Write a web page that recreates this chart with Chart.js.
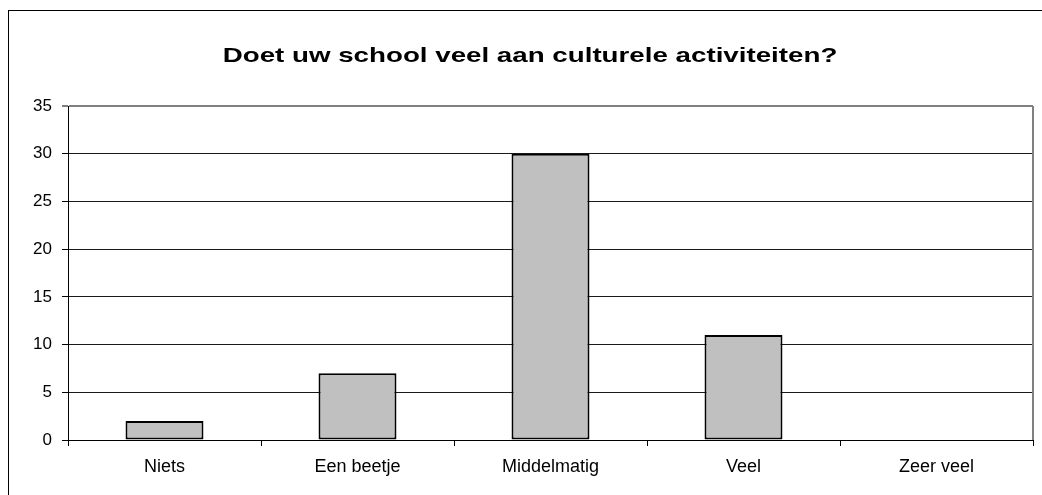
<!DOCTYPE html>
<html>
<head>
<meta charset="utf-8">
<script src="https://cdn.jsdelivr.net/npm/chart.js@4"></script>
<style>
    html, body { margin: 0; padding: 0; background: #fff; overflow: hidden; }
    #wrap { position: relative; width: 1042px; height: 495px; }
    #frame {
        position: absolute; left: 8px; top: 10px; width: 1100px; height: 600px;
        border-left: 1px solid #000; border-top: 1px solid #000; pointer-events: none;
    }
</style>
</head>
<body>
<div id="wrap">
    <canvas id="cultureChart"></canvas>
    <div id="frame"></div>
</div>
<script>
const TITLE = 'Doet uw school veel aan culturele activiteiten?';
const categories = ['Niets', 'Een beetje', 'Middelmatig', 'Veel', 'Zeer veel'];
const counts = [2, 7, 30, 11, 0];
const yMin = 0;
const yMax = 35;
const yStep = 5;

const FONT = '"Liberation Sans", Arial, sans-serif';

// Excel-style title (stretched horizontally) and grey right edge of the plot area
const excelFrame = {
    id: 'excelFrame',
    afterDraw(chart) {
        const { ctx, chartArea } = chart;
        ctx.save();
        ctx.strokeStyle = '#808080';
        ctx.lineWidth = 2;
        ctx.beginPath();
        ctx.moveTo(chartArea.right, chartArea.top);
        ctx.lineTo(chartArea.right, chartArea.bottom);
        ctx.stroke();

        ctx.font = 'bold 21px ' + FONT;
        ctx.fillStyle = '#000';
        ctx.textAlign = 'center';
        ctx.textBaseline = 'alphabetic';
        ctx.translate(530, 62);
        ctx.scale(1.32, 1);
        ctx.fillText(TITLE, 0, 0);
        ctx.restore();
    },
};

const ctx = document.getElementById('cultureChart').getContext('2d');

new Chart(ctx, {
    type: 'bar',
    data: {
        labels: categories,
        datasets: [
            {
                data: counts,
                backgroundColor: '#c0c0c0',
                borderColor: '#000',
                borderWidth: 2,
                borderSkipped: false,
                barPercentage: 0.404,
                categoryPercentage: 1,
            },
        ],
    },
    options: {
        responsive: true,
        maintainAspectRatio: false,
        animation: false,
        layout: {
            padding: { top: 106, right: 9, left: 0, bottom: 0 },
        },
        plugins: {
            legend: { display: false },
            tooltip: { enabled: false },
            title: { display: false },
        },
        scales: {
            x: {
                afterFit(scale) {
                    scale.height = 55;
                },
                grid: {
                    offset: true,
                    drawOnChartArea: false,
                    tickLength: 6,
                    tickColor: '#000',
                },
                border: { color: '#000', width: 1 },
                ticks: {
                    color: '#000',
                    padding: 10,
                    maxRotation: 0,
                    font: { family: FONT, size: 18 },
                },
            },
            y: {
                min: yMin,
                max: yMax,
                afterFit(scale) {
                    scale.width = 68;
                },
                grid: {
                    color: (c) => (c.tick && c.tick.value === yMax ? '#808080' : '#1a1a1a'),
                    lineWidth: (c) => (c.tick && c.tick.value === yMax ? 2 : 1),
                    tickLength: 6,
                    tickColor: '#000',
                    tickWidth: 1,
                },
                border: { color: '#000', width: 1 },
                ticks: {
                    stepSize: yStep,
                    color: '#000',
                    padding: 10,
                    font: { family: FONT, size: 17 },
                },
            },
        },
    },
    plugins: [excelFrame],
});
</script>
</body>
</html>
